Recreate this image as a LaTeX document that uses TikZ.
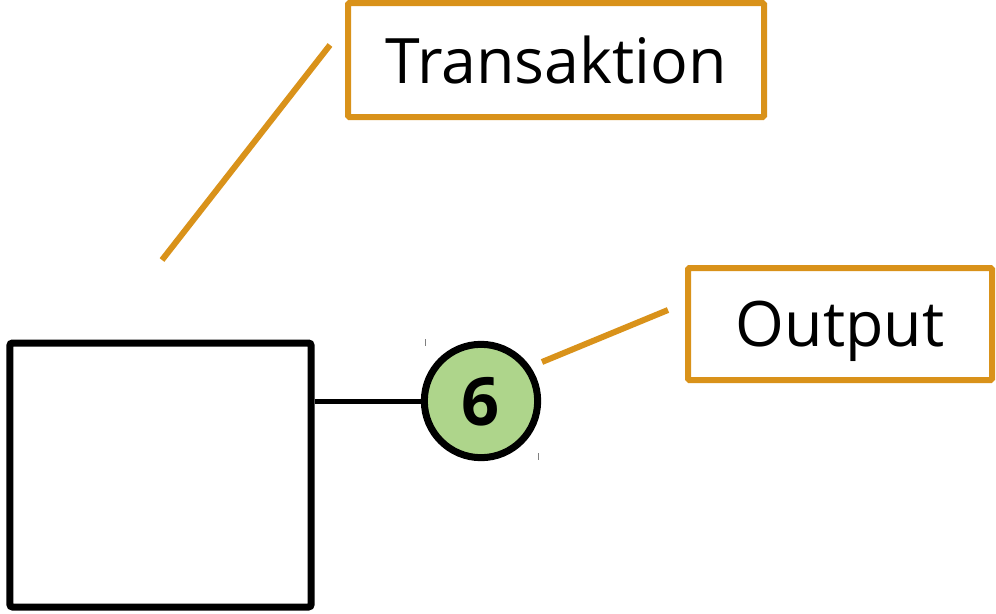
\documentclass[tikz,border=0pt]{standalone}
\usepackage{fontspec}
\setmainfont{Open Sans}
\usetikzlibrary{positioning}
\definecolor{amber}{HTML}{D9921A}
\definecolor{leaf}{HTML}{AED58B}
\tikzset{
  box/.style={draw=black,line width=5.25pt,rounded corners=2pt,minimum width=226pt,minimum height=198pt,inner sep=0pt},
  coin/.style={circle,draw=black,line width=5.25pt,fill=leaf,minimum size=85pt,inner sep=0pt,text depth=0pt,font=\fontsize{50}{50}\selectfont\bfseries},
  note/.style={draw=amber,line width=4.5pt,rounded corners=1pt,inner sep=0pt,text depth=0pt,font=\fontsize{47}{47}\selectfont},
  pointer/.style={draw=amber,line width=4.5pt}
}
\begin{document}
\begin{tikzpicture}[x=0.75pt,y=-0.75pt]
  \useasboundingbox (0,0) rectangle (996,614);
  \node[box] (tx) at (160.5,475) {};
  \node[coin] (out6) at (481,401) {6};
  \node[note,minimum width=312pt,minimum height=85.5pt] (lblT) at (556,60) {Transaktion};
  \node[note,minimum width=228pt,minimum height=84pt] (lblO) at (840,324) {Output};
  \coordinate (tA) at (162,260);
  \coordinate (tB) at (330,45);
  \coordinate (oA) at (542,362);
  \coordinate (oB) at (668,310);
  \draw[line width=3.75pt] (tx.east |- out6) -- (out6.west);
  \draw[pointer] (tA) -- (tB);
  \draw[pointer] (oA) -- (oB);
  % small marks beside the coin
  \draw[gray,line width=0.75pt] (425,339) -- (425,346);
  \draw[gray,line width=0.75pt] (538,453) -- (538,460);
\end{tikzpicture}
\end{document}
